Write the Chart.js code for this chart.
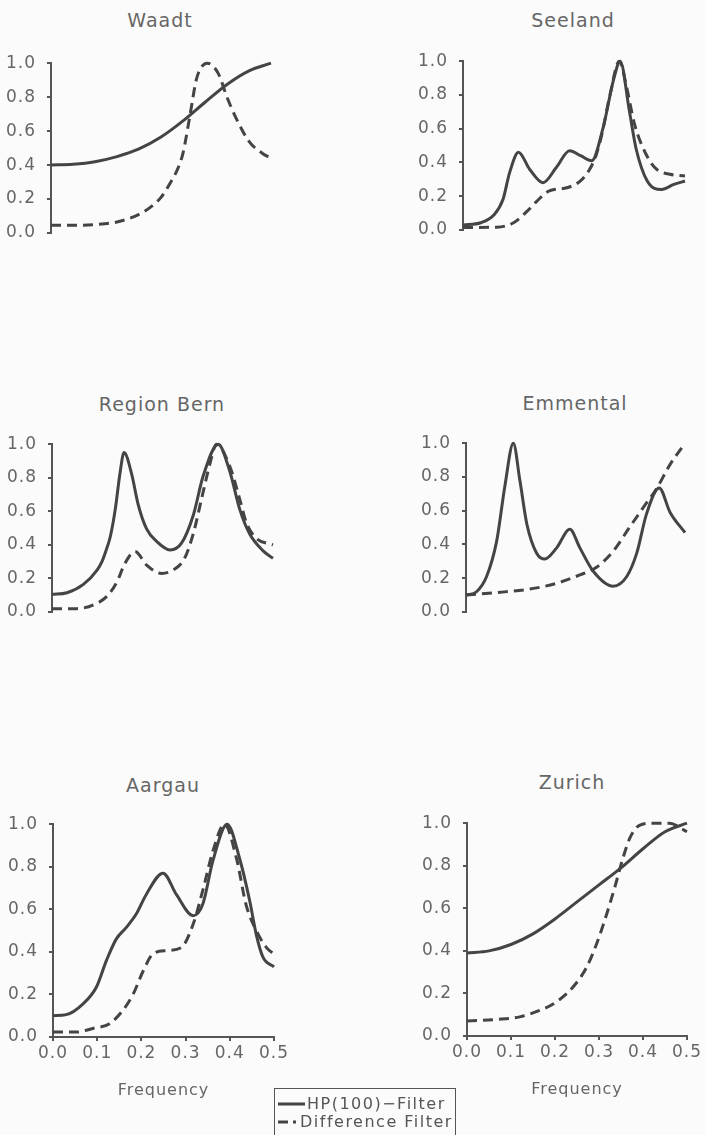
<!DOCTYPE html>
<html>
<head>
<meta charset="utf-8">
<script src="https://cdn.jsdelivr.net/npm/chart.js@4.4.1/dist/chart.umd.min.js"></script>
<style>
html,body{margin:0;padding:0;background:#fbfbfb;}
body{width:705px;height:1135px;position:relative;overflow:hidden;font-family:"DejaVu Sans",sans-serif;color:#666;}
canvas{position:absolute;}
.t{position:absolute;font-size:19px;letter-spacing:1px;line-height:22px;height:22px;transform:translate(-50%,-50%);white-space:nowrap;color:#666;}
.legend{position:absolute;left:274px;top:1088px;width:182px;height:60px;border:1.5px solid #555;box-sizing:border-box;}
.lg{position:absolute;font-size:16px;letter-spacing:1.5px;line-height:18px;white-space:nowrap;color:#555;transform:translateY(-50%);}
.sw{position:absolute;height:3px;background:#444;transform:translateY(-50%);}
</style>
</head>
<body>
<div class="t" style="left:160px;top:20px;">Waadt</div>
<div class="t" style="left:573px;top:20px;">Seeland</div>
<div class="t" style="left:162px;top:404px;">Region Bern</div>
<div class="t" style="left:575px;top:403px;">Emmental</div>
<div class="t" style="left:163px;top:785px;">Aargau</div>
<div class="t" style="left:572px;top:782px;">Zurich</div>

<canvas id="c1"></canvas>
<canvas id="c2"></canvas>
<canvas id="c3"></canvas>
<canvas id="c4"></canvas>
<canvas id="c5"></canvas>
<canvas id="c6"></canvas>

<div class="legend"></div>
<div class="sw" style="left:278px;top:1104px;width:27px;"></div>
<div class="lg" style="left:307px;top:1104px;">HP(100)−Filter</div>
<div class="sw" style="left:278px;top:1122px;width:10px;"></div>
<div class="sw" style="left:293px;top:1122px;width:3px;"></div>
<div class="lg" style="left:300px;top:1122px;">Difference Filter</div>

<script>
// ---- Data (frequency knots and gain values) ----
const seriesNames = ["HP(100)-Filter", "Difference Filter"];
const yTickValues = [0.0, 0.2, 0.4, 0.6, 0.8, 1.0];
const xTickValues = [0.0, 0.1, 0.2, 0.3, 0.4, 0.5];

const waadtHpF   = [0, 0.05, 0.10, 0.15, 0.20, 0.25, 0.30, 0.35, 0.40, 0.45, 0.50];
const waadtHpV   = [0.40, 0.405, 0.42, 0.45, 0.495, 0.565, 0.66, 0.77, 0.875, 0.955, 1.0];
const waadtDiffF = [0, 0.05, 0.10, 0.15, 0.20, 0.23, 0.25, 0.27, 0.29, 0.30, 0.315, 0.33, 0.34, 0.355, 0.38, 0.40, 0.42, 0.45, 0.48, 0.50];
const waadtDiffV = [0.045, 0.045, 0.05, 0.065, 0.11, 0.16, 0.21, 0.29, 0.39, 0.47, 0.68, 0.90, 0.97, 1.0, 0.94, 0.80, 0.68, 0.54, 0.47, 0.44];

const seelandHpF   = [0, 0.04, 0.07, 0.09, 0.105, 0.125, 0.15, 0.18, 0.21, 0.24, 0.265, 0.29, 0.315, 0.34, 0.354, 0.375, 0.39, 0.415, 0.447, 0.475, 0.50];
const seelandHpV   = [0.03, 0.043, 0.09, 0.18, 0.34, 0.46, 0.36, 0.28, 0.37, 0.47, 0.44, 0.41, 0.60, 0.90, 1.0, 0.70, 0.48, 0.29, 0.24, 0.27, 0.29];
const seelandDiffF = [0, 0.076, 0.114, 0.144, 0.166, 0.193, 0.234, 0.264, 0.283, 0.298, 0.313, 0.331, 0.352, 0.369, 0.386, 0.414, 0.436, 0.466, 0.50];
const seelandDiffV = [0.015, 0.017, 0.043, 0.11, 0.17, 0.23, 0.25, 0.29, 0.35, 0.43, 0.57, 0.80, 1.0, 0.84, 0.63, 0.44, 0.36, 0.33, 0.32];

const bernHpF   = [0, 0.034, 0.071, 0.102, 0.113, 0.124, 0.132, 0.143, 0.154, 0.163, 0.18, 0.195, 0.214, 0.237, 0.267, 0.293, 0.32, 0.342, 0.376, 0.402, 0.425, 0.447, 0.477, 0.50];
const bernHpV   = [0.105, 0.115, 0.165, 0.25, 0.30, 0.38, 0.45, 0.61, 0.83, 0.95, 0.825, 0.64, 0.495, 0.42, 0.37, 0.41, 0.58, 0.81, 1.0, 0.84, 0.61, 0.466, 0.366, 0.32];
const bernDiffF = [0, 0.056, 0.094, 0.124, 0.147, 0.165, 0.188, 0.214, 0.248, 0.274, 0.30, 0.32, 0.338, 0.357, 0.372, 0.402, 0.425, 0.44, 0.462, 0.50];
const bernDiffV = [0.02, 0.02, 0.043, 0.093, 0.18, 0.29, 0.36, 0.28, 0.23, 0.25, 0.32, 0.47, 0.67, 0.88, 1.0, 0.87, 0.67, 0.53, 0.44, 0.40];

const emmentalHpF   = [0, 0.024, 0.047, 0.07, 0.089, 0.108, 0.123, 0.139, 0.161, 0.18, 0.207, 0.237, 0.26, 0.291, 0.336, 0.367, 0.39, 0.412, 0.441, 0.466, 0.50];
const emmentalHpV   = [0.10, 0.12, 0.21, 0.42, 0.75, 1.0, 0.78, 0.52, 0.35, 0.314, 0.38, 0.49, 0.38, 0.24, 0.153, 0.21, 0.35, 0.58, 0.735, 0.59, 0.47];
const emmentalDiffF = [0, 0.07, 0.146, 0.207, 0.26, 0.298, 0.336, 0.373, 0.405, 0.435, 0.465, 0.50];
const emmentalDiffV = [0.10, 0.115, 0.136, 0.17, 0.22, 0.265, 0.36, 0.50, 0.62, 0.73, 0.87, 1.0];

const aargauHpF   = [0, 0.03, 0.068, 0.098, 0.121, 0.143, 0.166, 0.189, 0.211, 0.249, 0.279, 0.317, 0.339, 0.362, 0.394, 0.422, 0.445, 0.46, 0.475, 0.50];
const aargauHpV   = [0.10, 0.105, 0.156, 0.234, 0.36, 0.46, 0.515, 0.58, 0.67, 0.77, 0.67, 0.57, 0.625, 0.83, 1.0, 0.84, 0.64, 0.48, 0.375, 0.33];
const aargauDiffF = [0, 0.053, 0.09, 0.128, 0.158, 0.181, 0.204, 0.226, 0.256, 0.29, 0.317, 0.339, 0.362, 0.388, 0.415, 0.437, 0.46, 0.483, 0.50];
const aargauDiffV = [0.023, 0.023, 0.04, 0.0625, 0.125, 0.20, 0.31, 0.39, 0.406, 0.42, 0.53, 0.69, 0.875, 1.0, 0.84, 0.62, 0.50, 0.42, 0.39];

const zurichHpF   = [0, 0.05, 0.10, 0.15, 0.20, 0.25, 0.30, 0.35, 0.40, 0.45, 0.50];
const zurichHpV   = [0.39, 0.40, 0.43, 0.48, 0.55, 0.63, 0.71, 0.79, 0.88, 0.96, 1.0];
const zurichDiffF = [0, 0.067, 0.12, 0.165, 0.203, 0.241, 0.271, 0.294, 0.317, 0.336, 0.355, 0.37, 0.392, 0.423, 0.46, 0.50];
const zurichDiffV = [0.07, 0.078, 0.09, 0.12, 0.16, 0.23, 0.32, 0.43, 0.57, 0.70, 0.84, 0.93, 0.99, 1.0, 1.0, 0.96];

// ---- Layout (page pixel boxes of each plot area) ----
const panels = [
  {id:'c1', col:0,   cw:300, L:51,  R:271, T:62,  B:296,  showX:false, hpF:waadtHpF,    hpV:waadtHpV,    dF:waadtDiffF,    dV:waadtDiffV},
  {id:'c2', col:380, cw:325, L:463, R:685, T:60,  B:293,  showX:false, hpF:seelandHpF,  hpV:seelandHpV,  dF:seelandDiffF,  dV:seelandDiffV},
  {id:'c3', col:0,   cw:300, L:52,  R:273, T:443, B:675,  showX:false, hpF:bernHpF,     hpV:bernHpV,     dF:bernDiffF,     dV:bernDiffV},
  {id:'c4', col:380, cw:325, L:466, R:685, T:442, B:675,  showX:false, hpF:emmentalHpF, hpV:emmentalHpV, dF:emmentalDiffF, dV:emmentalDiffV},
  {id:'c5', col:0,   cw:300, L:53,  R:274, T:823, B:1037, showX:true,  hpF:aargauHpF,   hpV:aargauHpV,   dF:aargauDiffF,   dV:aargauDiffV},
  {id:'c6', col:380, cw:325, L:467, R:687, T:822, B:1036, showX:true,  hpF:zurichHpF,   hpV:zurichHpV,   dF:zurichDiffF,   dV:zurichDiffV}
];

const TOPPAD = 20, XAXIS_H = 63, BOTPAD = 20;
const INK = '#444', AXIS = '#555', TEXT = '#666';

const spacingPlugin = {
  id: 'spacing',
  beforeLayout(chart){ chart.ctx.letterSpacing = '1px'; },
  beforeDraw(chart){ chart.ctx.letterSpacing = '1px'; }
};

function pts(f, v){ return f.map((x, i) => ({x: x, y: v[i]})); }

panels.forEach(p => {
  const cv = document.getElementById(p.id);
  const top = p.T - TOPPAD;
  const bottom = p.showX ? p.B + XAXIS_H : p.B + BOTPAD;
  const h = bottom - top;
  cv.width = p.cw; cv.height = h;
  cv.style.left = p.col + 'px'; cv.style.top = top + 'px';
  cv.style.width = p.cw + 'px'; cv.style.height = h + 'px';

  new Chart(cv, {
    type: 'line',
    data: {
      datasets: [
        {label: seriesNames[0], data: pts(p.hpF, p.hpV), borderColor: INK, borderWidth: 3,
         pointRadius: 0, cubicInterpolationMode: 'monotone', fill: false, clip: false},
        {label: seriesNames[1], data: pts(p.dF, p.dV), borderColor: INK, borderWidth: 3,
         borderDash: [10, 6], pointRadius: 0, cubicInterpolationMode: 'monotone', fill: false, clip: false}
      ]
    },
    options: {
      responsive: false,
      animation: false,
      devicePixelRatio: 1,
      layout: {padding: {top: TOPPAD, left: 0, right: (p.col + p.cw) - p.R, bottom: p.showX ? 0 : BOTPAD}},
      plugins: {legend: {display: false}, tooltip: {enabled: false}, title: {display: false}},
      scales: {
        x: {
          type: 'linear', min: 0, max: 0.5,
          display: p.showX,
          afterFit: s => { s.height = XAXIS_H; },
          afterBuildTicks: s => { s.ticks = xTickValues.map(v => ({value: v})); },
          grid: {display: true, drawOnChartArea: false, drawTicks: true, tickLength: 4, color: AXIS, lineWidth: 2},
          border: {display: true, color: AXIS, width: 2},
          ticks: {padding: 2, color: TEXT, font: {family: 'DejaVu Sans', size: 17}, maxRotation: 0,
                  callback: v => Number(v).toFixed(1)},
          title: {display: true, text: 'Frequency', color: TEXT, font: {family: 'DejaVu Sans', size: 16}, padding: 0}
        },
        y: {
          type: 'linear', min: 0, max: 1,
          afterFit: s => { s.width = p.L - p.col; },
          afterBuildTicks: s => { s.ticks = yTickValues.map(v => ({value: v})); },
          grid: {display: true, drawOnChartArea: false, drawTicks: true, tickLength: 4, color: AXIS, lineWidth: 2},
          border: {display: true, color: AXIS, width: 2},
          ticks: {padding: 11, color: TEXT, font: {family: 'DejaVu Sans', size: 17},
                  callback: v => Number(v).toFixed(1)}
        }
      }
    },
    plugins: [spacingPlugin]
  });
});
</script>
</body>
</html>
